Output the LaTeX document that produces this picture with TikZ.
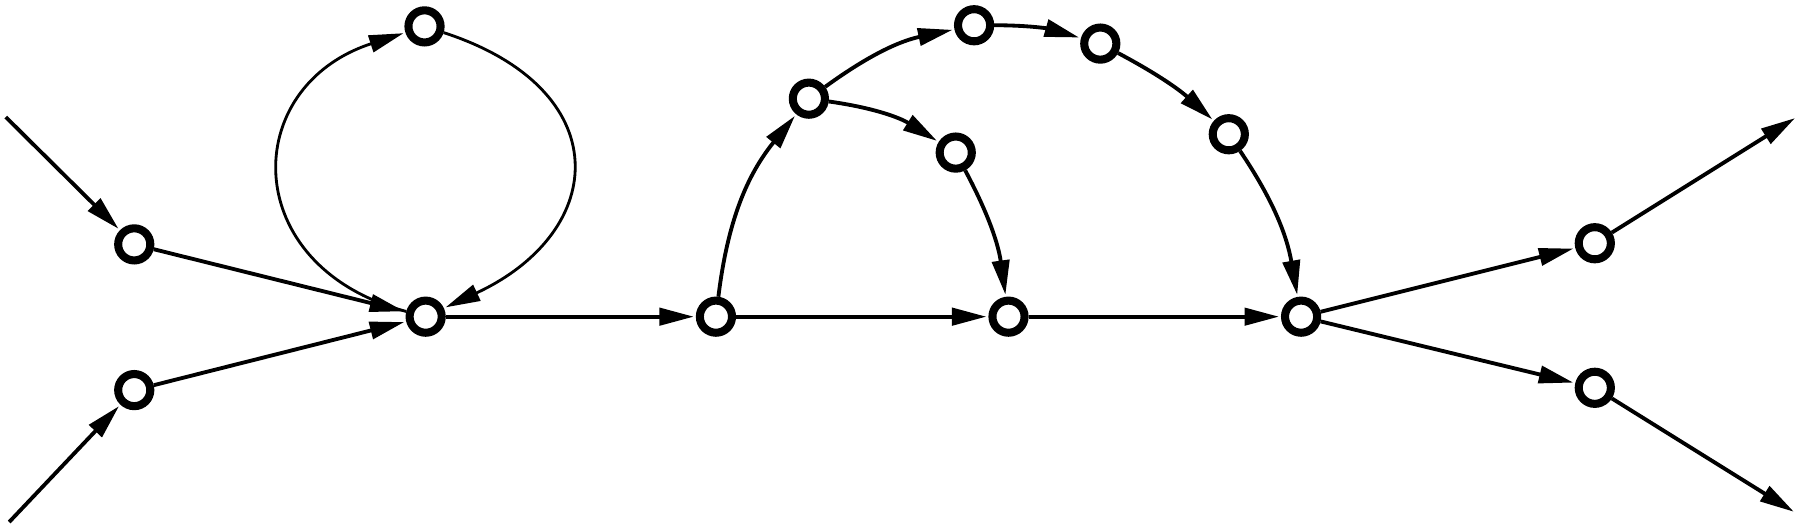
\documentclass[tikz,border=0pt]{standalone}
\usetikzlibrary{arrows.meta}

\begin{document}
\begin{tikzpicture}[
    vtx/.style={circle, draw, line width=2pt, inner sep=0pt, minimum size=2.8mm},
    edge/.style={line width=0.95pt, -{Triangle[length=3mm,width=1.5mm]}, shorten >=0.5pt}
]
    \def\dx{0};
    \def\dy{0};
    \def\a{0.01};
    \def\b{-0.01};
    \useasboundingbox (0,0) rectangle (15.68,-4.56);
    \coordinate (In1) at (\dx+5*\a, \dy+102*\b);
    \coordinate (In2) at (\dx+8*\a, \dy+455*\b);
    \coordinate (Out1) at (\dx+1566*\a, \dy+102*\b);
    \coordinate (Out2) at (\dx+1565*\a, \dy+447*\b);
    \node[vtx] at (\dx+117*\a, \dy+213*\b) (V1) {};
    \node[vtx] at (\dx+117*\a, \dy+340*\b) (V2) {};
    \node[vtx] at (\dx+371*\a, \dy+276*\b) (V3) {};
    \node[vtx] at (\dx+370*\a, \dy+23*\b) (V4) {};
    \node[vtx] at (\dx+624*\a, \dy+276*\b) (V5) {};
    \node[vtx] at (\dx+705*\a, \dy+86*\b) (V6) {};
    \node[vtx] at (\dx+849*\a, \dy+22*\b) (V7) {};
    \node[vtx] at (\dx+959*\a, \dy+38*\b) (V8) {};
    \node[vtx] at (\dx+1071*\a, \dy+117*\b) (V9) {};
    \node[vtx] at (\dx+833*\a, \dy+133*\b) (V10) {};
    \node[vtx] at (\dx+879*\a, \dy+276*\b) (V11) {};
    \node[vtx] at (\dx+1134*\a, \dy+276*\b) (V12) {};
    \node[vtx] at (\dx+1390*\a, \dy+212*\b) (V13) {};
    \node[vtx] at (\dx+1390*\a, \dy+338*\b) (V14) {};
    \draw[edge] (In1) -- (V1);
    \draw[edge] (In2) -- (V2);
    \draw[edge] (V1) -- (V3);
    \draw[edge] (V2) -- (V3);
    \draw[edge, line width=0.7pt] (V3) to[out=165, in=198, looseness=1.6] (V4);
    \draw[edge, line width=0.7pt] (V4) to[out=-18, in=25, looseness=1.7] (V3);
    \draw[edge] (V3) -- (V5);
    \draw[edge] (V5) to[out=83, in=231] (V6);
    \draw[edge] (V6) to[out=36, in=192] (V7);
    \draw[edge] (V7) to[out=0, in=164] (V8);
    \draw[edge] (V8) to[out=-28, in=138] (V9);
    \draw[edge] (V9) to[out=-56, in=100] (V12);
    \draw[edge] (V6) to[out=-8, in=148] (V10);
    \draw[edge] (V10) to[out=-62, in=98] (V11);
    \draw[edge] (V5) -- (V11);
    \draw[edge] (V11) -- (V12);
    \draw[edge] (V12) -- (V13);
    \draw[edge] (V12) -- (V14);
    \draw[edge] (V13) -- (Out1);
    \draw[edge] (V14) -- (Out2);
\end{tikzpicture}
\end{document}
